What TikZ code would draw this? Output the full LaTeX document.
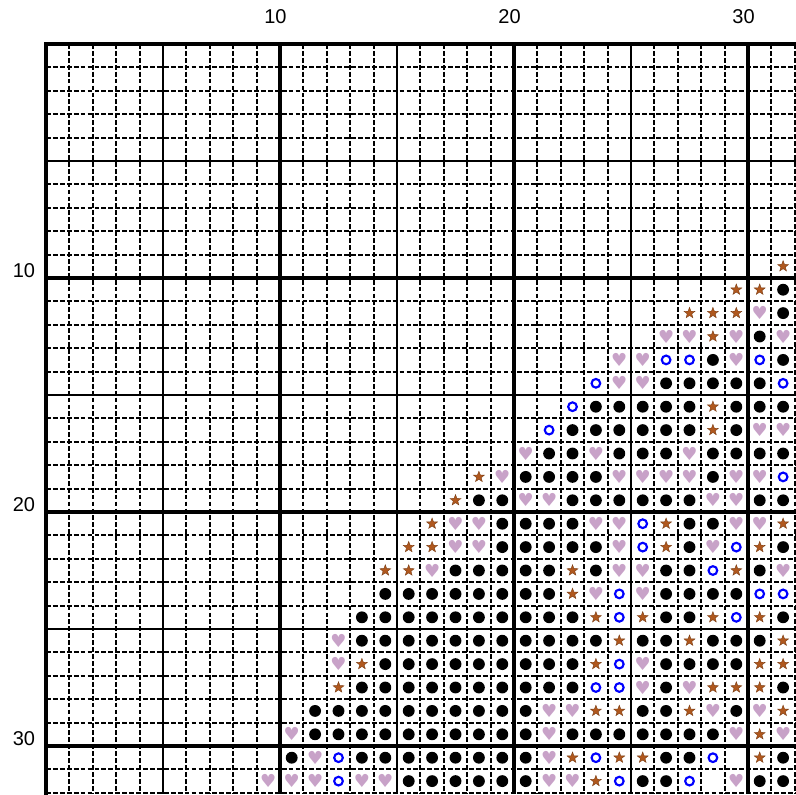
\documentclass[tikz,border=0pt]{standalone}
\usepackage{fontspec}
\setmainfont{Liberation Sans}
\newfontfamily\symfont{DejaVu Sans}
\usetikzlibrary{shapes.geometric}
\definecolor{starbrown}{HTML}{B0581E}
\definecolor{heartlilac}{HTML}{C8A2C8}
\definecolor{ringblue}{HTML}{0000FF}
\begin{document}
\begin{tikzpicture}[x=0.75pt,y=-0.75pt,
  dashln/.style={line width=1.45pt, dash pattern=on 3.6pt off 1.6pt},
  fiveln/.style={line width=1.4pt},
  tenln/.style={line width=2.3pt},
  lab/.style={font=\fontsize{15pt}{18pt}\selectfont, inner sep=0pt, anchor=base},
  sym1/.style={star, star points=5, star point ratio=2.4, minimum size=8.6pt, inner sep=0pt, fill=starbrown, draw=starbrown!70!black, line width=0.3pt},
  sym2/.style={inner sep=0pt, text=heartlilac, font=\symfont\fontsize{13.5pt}{13.5pt}\selectfont},
  sym3/.style={circle, fill=black, minimum size=8.9pt, inner sep=0pt},
  sym4/.style={circle, draw=ringblue, line width=1.6pt, minimum size=6.5pt, inner sep=0pt},
]
\useasboundingbox (0,0) rectangle (796,794);
\fill[white] (0,0) rectangle (796,794);
% dashed grid lines
\foreach \i in {1,...,32} {
  \pgfmathtruncatemacro\m{mod(\i,5)}
  \ifnum\m=0 \else
    \draw[dashln] (46+\i*23.4,44) -- (46+\i*23.4,794);
    \draw[dashln] (46,44+\i*23.4) -- (796,44+\i*23.4);
  \fi
}
% every fifth line
\foreach \i in {5,15,25} {
  \draw[fiveln] (46+\i*23.4,44) -- (46+\i*23.4,794);
  \draw[fiveln] (46,44+\i*23.4) -- (796,44+\i*23.4);
}
% every tenth line
\foreach \i in {10,20,30} {
  \draw[tenln] (46+\i*23.4,44) -- (46+\i*23.4,794);
  \draw[tenln] (46,44+\i*23.4) -- (796,44+\i*23.4);
}
\draw[tenln, line cap=rect] (46,794) -- (46,44) -- (796,44);
% labels
\foreach \i in {10,20,30} {
  \node[lab] (top\i) at (46+\i*23.4-4.5,23) {\i};
  \node[lab] (left\i) at (24,44+\i*23.4-1) {\i};
}
% symbols: 1 star, 2 heart, 3 dot, 4 ring, 0 empty
\foreach \r/\s/\l in {
  10/32/{1},
  11/30/{1,1,3},
  12/28/{1,1,1,2,3},
  13/27/{2,2,1,2,3,2},
  14/25/{2,2,4,4,3,2,4,3},
  15/24/{4,2,2,3,3,3,3,3,4},
  16/23/{4,3,3,3,3,3,1,3,3,3},
  17/22/{4,3,3,3,3,3,3,1,3,2,2},
  18/21/{2,3,3,2,3,3,3,2,3,3,3,3},
  19/19/{1,2,3,3,3,3,2,2,2,2,3,2,2,4},
  20/18/{1,3,3,2,2,3,3,3,3,3,3,2,2,3,3},
  21/17/{1,2,2,3,3,3,3,2,2,4,1,3,3,2,2,1},
  22/16/{1,1,2,2,3,3,3,3,3,2,4,1,3,2,4,1,3},
  23/15/{1,1,2,3,3,3,3,3,1,3,2,2,3,3,4,1,3,2},
  24/15/{3,3,3,3,3,3,3,3,1,2,4,2,3,3,3,3,4,4},
  25/14/{3,3,3,3,3,3,3,3,3,3,1,4,1,3,3,1,4,1,3},
  26/13/{2,3,3,3,3,3,3,3,3,3,3,3,1,3,3,1,3,3,3,1},
  27/13/{2,1,3,3,3,3,3,3,3,3,3,1,4,2,3,3,3,3,1,1},
  28/13/{1,3,3,3,3,3,3,3,3,3,3,4,4,2,3,2,1,1,1,3},
  29/12/{3,3,3,3,3,3,3,3,3,3,2,2,1,1,3,3,1,2,3,2,1},
  30/11/{2,3,3,3,3,3,3,3,3,3,3,2,3,3,3,3,3,3,3,2,1,2},
  31/11/{3,2,4,3,3,3,3,3,3,3,3,2,1,4,1,1,3,3,4,0,1,3},
  32/10/{2,2,2,4,2,2,3,3,3,3,3,3,2,2,1,4,3,3,4,0,2,3,3}} {
  \foreach \c [count=\i from \s] in \l {
    \ifcase\c
    \or \node[sym1] (c\r-\i) at (46+\i*23.4-11.7,44+\r*23.4-11.7) {};
    \or \node[sym2] (c\r-\i) at (46+\i*23.4-11.7,44+\r*23.4-11.7) {♥};
    \or \node[sym3] (c\r-\i) at (46+\i*23.4-11.7,44+\r*23.4-11.7) {};
    \or \node[sym4] (c\r-\i) at (46+\i*23.4-11.7,44+\r*23.4-11.7) {};
    \fi
  }
}
\end{tikzpicture}
\end{document}
